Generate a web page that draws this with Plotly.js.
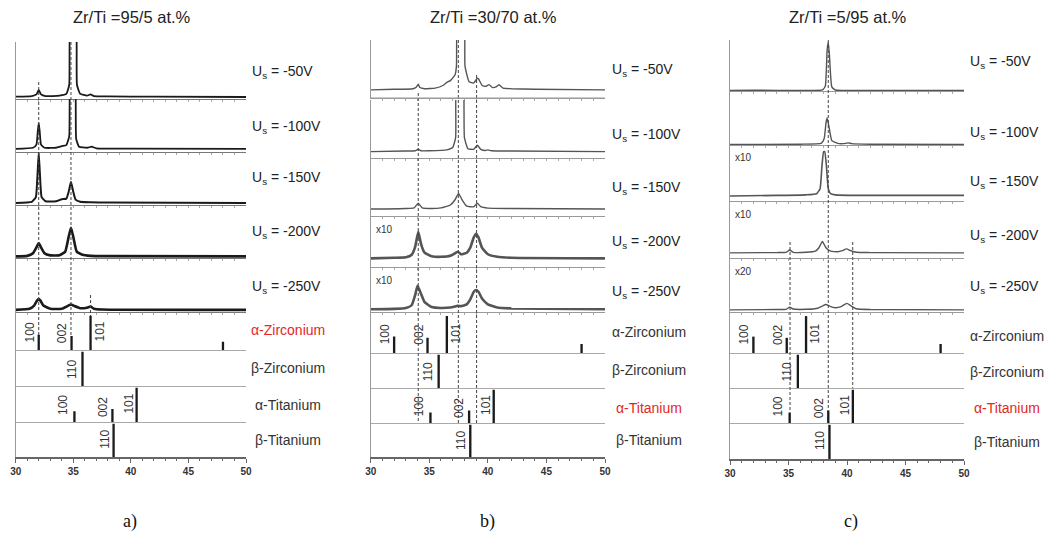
<!DOCTYPE html>
<html><head><meta charset="utf-8">
<script src="https://cdn.plot.ly/plotly-3.0.1.min.js"></script>
<style>body{margin:0;background:#fff}#chart{width:1051px;height:541px}</style>
</head><body><div id="chart"></div>
<script>
// ---------------- DATA ----------------
const panelTitles = ['Zr/Ti =95/5 at.%', 'Zr/Ti =30/70 at.%', 'Zr/Ti =5/95 at.%'];
const captions = ['a)', 'b)', 'c)'];
const biasLabels = ['-50V', '-100V', '-150V', '-200V', '-250V'];
const phaseNames = ['α-Zirconium', 'β-Zirconium', 'α-Titanium', 'β-Titanium'];
const redPhase = ['α-Zirconium', 'α-Titanium', 'α-Titanium'];
const scaleLabels_a = ['', '', '', '', ''];
const scaleLabels_b = ['', '', '', 'x10', 'x10'];
const scaleLabels_c = ['', '', 'x10', 'x10', 'x20'];
const xTicks = [30, 35, 40, 45, 50];

// Panel a spectra (2theta, intensity in % of strip height)
const a50_tt = [30, 31.4, 31.8, 32.0, 32.2, 32.6, 33.8, 34.4, 34.65, 34.78, 35.2, 35.32, 35.6, 36.2, 36.5, 36.8, 38, 42, 50];
const a50_I  = [4, 5, 8, 16, 8, 5, 6, 9, 25, 150, 150, 25, 9, 6, 8, 5, 4.5, 4, 3.5];
const a100_tt = [30, 31.5, 31.8, 31.92, 32.0, 32.08, 32.2, 32.5, 33.5, 34.0, 34.4, 34.65, 34.78, 35.12, 35.25, 35.5, 36.2, 36.6, 37.0, 40, 50];
const a100_I  = [6, 8, 14, 40, 55, 40, 14, 8, 8, 11, 13, 30, 150, 150, 25, 10, 8, 10, 7, 6.5, 6];
const a150_tt = [30, 31.4, 31.75, 31.9, 32.0, 32.1, 32.25, 32.6, 33.5, 34.0, 34.4, 34.6, 34.8, 35.0, 35.2, 35.6, 36.5, 38, 50];
const a150_I  = [4, 6, 15, 60, 98, 60, 15, 7, 7, 11, 12, 25, 44, 25, 10, 6, 5, 4.5, 4];
const a200_tt = [30, 31.0, 31.5, 31.8, 32.0, 32.2, 32.5, 33.0, 33.8, 34.3, 34.6, 34.8, 35.0, 35.3, 35.8, 36.5, 38, 50];
const a200_I  = [3, 4, 9, 20, 28, 20, 9, 5, 5, 12, 40, 57, 40, 12, 6, 4, 3.5, 3];
const a250_tt = [30, 31.2, 31.6, 31.85, 32.0, 32.15, 32.4, 33.0, 34.0, 34.5, 34.8, 35.1, 35.6, 36.2, 36.5, 36.8, 37.5, 50];
const a250_I  = [4, 6, 12, 21, 24, 21, 12, 6, 6, 11, 14, 11, 7, 8, 10, 6, 4.5, 4];

// Panel b spectra
const b50_tt = [30, 32, 33.6, 33.9, 34.06, 34.2, 34.6, 35.5, 36.2, 36.5, 36.8, 37.2, 37.32, 37.45, 37.95, 38.05, 38.4, 38.8, 39.1, 39.2, 39.5, 39.8, 40.1, 40.4, 40.7, 40.95, 41.3, 42, 44, 50];
const b50_I  = [14, 15, 16, 19, 24, 18, 16, 17, 22, 27, 30, 40, 55, 150, 150, 55, 28, 26, 34, 33, 22, 20, 23, 18, 19, 23, 17, 16, 15, 14];
const b100_tt = [30, 33, 33.8, 34.06, 34.3, 35, 36.5, 37.0, 37.25, 37.35, 37.85, 38.0, 38.3, 38.8, 39.1, 39.4, 39.8, 40.0, 40.3, 42, 50];
const b100_I  = [11, 12, 12.5, 15, 12.5, 12.5, 14, 18, 35, 150, 150, 35, 16, 15, 22, 15, 13, 14, 12.5, 12, 11];
const b150_tt = [30, 33, 33.7, 34.06, 34.4, 35, 36, 36.8, 37.2, 37.5, 37.8, 38.2, 38.8, 39.1, 39.4, 40, 42, 50];
const b150_I  = [12, 13, 14, 22, 14, 13, 14, 19, 28, 39, 28, 17, 16, 22, 16, 13.5, 13, 12];
const b200_tt = [30, 32, 33.0, 33.5, 33.8, 34.06, 34.3, 34.6, 35.2, 36.0, 36.8, 37.2, 37.45, 37.7, 38.2, 38.5, 38.8, 39.0, 39.2, 39.5, 40.0, 40.8, 42, 50];
const b200_I  = [17, 18, 19, 24, 40, 69, 45, 28, 21, 20, 22, 27, 30, 25, 28, 38, 58, 65, 58, 38, 25, 20, 18, 17];
const b250_tt = [30, 32, 33.0, 33.5, 33.8, 34.0, 34.3, 34.6, 35.2, 36.0, 36.8, 37.2, 37.4, 37.7, 38.2, 38.5, 38.8, 39.0, 39.2, 39.5, 40.0, 40.8, 42, 50];
const b250_I  = [6, 7, 9, 15, 38, 58, 40, 22, 11, 9, 10, 12, 14, 13, 17, 28, 45, 49, 45, 30, 17, 10, 8, 6];

// Panel c spectra
const c50_tt = [30, 32, 36, 37.9, 38.15, 38.3, 38.4, 38.5, 38.7, 39, 42, 50];
const c50_I  = [1, 1.5, 1, 2, 10, 80, 95, 70, 8, 2, 1, 1];
const c100_tt = [30, 36, 37.8, 38.05, 38.2, 38.3, 38.45, 38.7, 39.2, 39.9, 40.1, 40.4, 42, 50];
const c100_I  = [1, 1.5, 3, 12, 40, 50, 35, 8, 3, 3, 4, 2.5, 1.5, 1];
const c150_tt = [30, 34, 36.5, 37.4, 37.7, 37.85, 38.0, 38.1, 38.25, 38.4, 38.6, 39.0, 41, 50];
const c150_I  = [9, 10, 11, 13, 22, 60, 88, 88, 60, 22, 13, 11, 10, 10];
const c200_tt = [30, 34, 34.8, 35.1, 35.4, 36.5, 37.3, 37.6, 37.9, 38.2, 38.6, 39.2, 39.6, 39.95, 40.3, 40.8, 42, 50];
const c200_I  = [9, 9.5, 10, 14, 10, 10, 12, 18, 29, 18, 12, 11, 13, 16, 13, 10, 9.5, 9];
const c250_tt = [30, 34, 34.8, 35.1, 35.4, 36.5, 37.5, 37.9, 38.2, 38.5, 39.0, 39.5, 39.8, 40.0, 40.3, 40.8, 42, 50];
const c250_I  = [4, 4.5, 5, 9, 5.5, 5, 7, 11, 14, 11, 8, 10, 14, 16, 12, 6, 4.5, 4];

// Reference patterns (stick positions, relative intensities, hkl)
const alphaZr_pos = [32.0, 34.85, 36.5, 48.0];
const alphaZr_int = [40, 37, 90, 22];
const alphaZr_hkl = ['100', '002', '101'];
const betaZr_pos = [35.8];
const betaZr_int = [95];
const betaZr_hkl = ['110'];
const alphaTi_pos = [35.1, 38.4, 40.5];
const alphaTi_int = [30, 36, 95];
const alphaTi_hkl = ['100', '002', '101'];
const betaTi_pos = [38.5];
const betaTi_int = [95];
const betaTi_hkl = ['110'];

// Dashed guide positions (2theta)
const dash_a = [32.0, 34.8, 36.5];
const dash_b = [34.06, 37.48, 39.04];
const dash_c = [38.4, 35.13, 40.49];

// ---------------- LAYOUT HELPERS ----------------
const W = 1051, H = 541;
const fx = p => p / W;
const fy = p => 1 - p / H;

const spectra = [
  [[a50_tt, a50_I], [a100_tt, a100_I], [a150_tt, a150_I], [a200_tt, a200_I], [a250_tt, a250_I]],
  [[b50_tt, b50_I], [b100_tt, b100_I], [b150_tt, b150_I], [b200_tt, b200_I], [b250_tt, b250_I]],
  [[c50_tt, c50_I], [c100_tt, c100_I], [c150_tt, c150_I], [c200_tt, c200_I], [c250_tt, c250_I]]
];
const scaleLabels = [scaleLabels_a, scaleLabels_b, scaleLabels_c];
const phases = [
  {pos: alphaZr_pos, int: alphaZr_int, hkl: alphaZr_hkl, off: [-0.8, -0.8, 0.8], ly: [45, 45, 48]},
  {pos: betaZr_pos, int: betaZr_int, hkl: betaZr_hkl, off: [-0.9], ly: [45]},
  {pos: alphaTi_pos, int: alphaTi_int, hkl: alphaTi_hkl, off: [-1.0, -0.8, -0.7], ly: [47, 42, 50]},
  {pos: betaTi_pos, int: betaTi_int, hkl: betaTi_hkl, off: [-0.8], ly: [50]}
];
const dashes = [dash_a, dash_b, dash_c];
const dashExt = [
  [[82, 335], [42, 336], [295, 316]],
  [[93, 423], [40, 423], [75, 423]],
  [[40, 410], [242, 411], [242, 388]]
];

const colPx = [[15.7, 246], [370.7, 605], [730, 964]];
const rowPx = [
  [[42, 99], [99, 152], [152, 205], [205, 258], [258, 312], [312, 350], [350, 386], [386, 422], [422, 457]],
  [[40, 98], [100, 158], [158, 216], [216, 267], [267, 312], [312, 353], [353, 388], [388, 423], [423, 457]],
  [[40, 91], [91, 145], [145, 201], [201, 258], [258, 312], [312, 353], [353, 388], [388, 423], [423, 459]]
];
const lineColor = ['#1a1a1a', '#555555', '#555555'];
const lineWidth = [[1.8, 1.8, 2, 2.6, 2.6], [1.4, 1.4, 1.4, 2.6, 2.6], [1.4, 1.4, 1.6, 1.4, 1.4]];
const usY = [[72, 127, 178, 232, 287], [70, 135, 188, 242, 292], [62, 133, 182, 236, 287]];
const usX = [250, 610, 968];
const phaseY = [[330, 368, 405, 440], [332, 370, 408, 440], [336, 372, 408, 442]];
const phaseX = [288, 649, 1007];
const titleX = [132, 493, 848];
const capX = [130, 487, 851];

const traces = [];
const layout = {
  width: W, height: H,
  margin: {l: 0, r: 0, t: 0, b: 0},
  paper_bgcolor: '#fff', plot_bgcolor: 'rgba(0,0,0,0)',
  showlegend: false,
  font: {family: 'Liberation Sans, Arial, sans-serif', color: '#222'},
  annotations: [], shapes: []
};

for (let c = 0; c < 3; c++) {
  for (let r = 0; r < 9; r++) {
    const idx = c * 9 + r + 1;
    const xa = 'xaxis' + idx, ya = 'yaxis' + idx;
    const isBottom = r === 8;
    const isSpec = r < 5;
    layout[xa] = {
      domain: [fx(colPx[c][0]), fx(colPx[c][1])],
      anchor: 'y' + idx, range: [30, 50], fixedrange: true,
      showgrid: false, zeroline: false, showline: true,
      linecolor: isSpec ? (c === 0 ? '#777' : '#999') : (isBottom ? '#666' : '#aaa'),
      linewidth: isBottom ? 1.5 : 1,
      showticklabels: isBottom,
      tickvals: isBottom ? xTicks : (isSpec ? [31,32,33,34,35,36,37,38,39,40,41,42,43,44,45,46,47,48,49] : []),
      ticks: (isBottom || isSpec) ? 'outside' : '',
      ticklen: isBottom ? 4 : 2, tickcolor: isSpec ? '#aaa' : '#666',
      tickfont: {size: 10, family: 'Liberation Sans, Arial', color: '#333', weight: 'bold'}
    };
    if (isBottom) {
      layout[xa].minor = {dtick: 1, ticks: 'outside', ticklen: 2, tickcolor: '#666'};
    }
    layout['yaxis' + idx] = {
      domain: [fy(rowPx[c][r][1]), fy(rowPx[c][r][0])],
      anchor: 'x' + idx, range: [0, 100], fixedrange: true,
      showgrid: false, zeroline: false, showline: true, linecolor: '#999', linewidth: 1,
      showticklabels: false, ticks: ''
    };
    if (isSpec) {
      const [tt, I] = spectra[c][r];
      traces.push({
        type: 'scatter', mode: 'lines', x: tt, y: I,
        xaxis: 'x' + idx, yaxis: 'y' + idx, hoverinfo: 'skip',
        line: {color: lineColor[c], width: lineWidth[c][r], shape: 'spline', smoothing: 0.4}
      });
      layout.annotations.push({
        xref: 'paper', yref: 'paper', x: fx(usX[c]), y: fy(usY[c][r]),
        xanchor: 'left', yanchor: 'middle', showarrow: false,
        text: 'U<sub>s</sub> = ' + biasLabels[r], font: {size: 14, color: '#222'}
      });
      if (scaleLabels[c][r]) {
        layout.annotations.push({
          xref: 'paper', yref: 'paper', x: fx(colPx[c][0] + 3), y: fy(rowPx[c][r][0] + 13),
          xanchor: 'left', yanchor: 'middle', showarrow: false,
          text: scaleLabels[c][r], font: {size: 10, color: '#333'}
        });
      }
    } else {
      const p = phases[r - 5];
      traces.push({
        type: 'bar', x: p.pos, y: p.int, width: 0.2,
        xaxis: 'x' + idx, yaxis: 'y' + idx, hoverinfo: 'skip',
        marker: {color: '#1a1a1a', line: {width: 0}}
      });
      p.hkl.forEach((h, k) => {
        layout.annotations.push({
          xref: 'x' + idx, yref: 'y' + idx, x: p.pos[k] + p.off[k], y: p.ly[k],
          textangle: -90, showarrow: false, xanchor: 'center', yanchor: 'middle',
          text: h, font: {size: 12, color: '#333'}
        });
      });
      const nm = phaseNames[r - 5];
      layout.annotations.push({
        xref: 'paper', yref: 'paper', x: fx(phaseX[c]), y: fy(phaseY[c][r - 5]),
        xanchor: 'center', yanchor: 'middle', showarrow: false,
        text: nm, font: {size: 14, color: nm === redPhase[c] ? '#e3281f' : '#333'}
      });
    }
  }
  // dashed guides
  dashes[c].forEach((xv, k) => {
    layout.shapes.push({
      type: 'line', xref: 'x' + (c * 9 + 1), yref: 'paper',
      x0: xv, x1: xv, y0: fy(dashExt[c][k][0]), y1: fy(dashExt[c][k][1]),
      line: {color: '#444', width: 1, dash: '3px,2px'}
    });
  });
  // title & caption
  layout.annotations.push({
    xref: 'paper', yref: 'paper', x: fx(titleX[c]), y: fy(17), xanchor: 'center', yanchor: 'middle',
    showarrow: false, text: panelTitles[c], font: {size: 16.5, color: '#222'}
  });
  layout.annotations.push({
    xref: 'paper', yref: 'paper', x: fx(capX[c]), y: fy(521), xanchor: 'center', yanchor: 'middle',
    showarrow: false, text: captions[c], font: {size: 18, color: '#111', family: 'Liberation Serif, Times New Roman, serif'}
  });
}
// extra separator line in panel b between first two strips
layout.shapes.push({type: 'line', xref: 'paper', yref: 'paper', x0: fx(colPx[1][0]), x1: fx(colPx[1][1]),
  y0: fy(98), y1: fy(98), line: {color: '#999', width: 1}});

Plotly.newPlot('chart', traces, layout, {displayModeBar: false, staticPlot: true});
</script></body></html>
